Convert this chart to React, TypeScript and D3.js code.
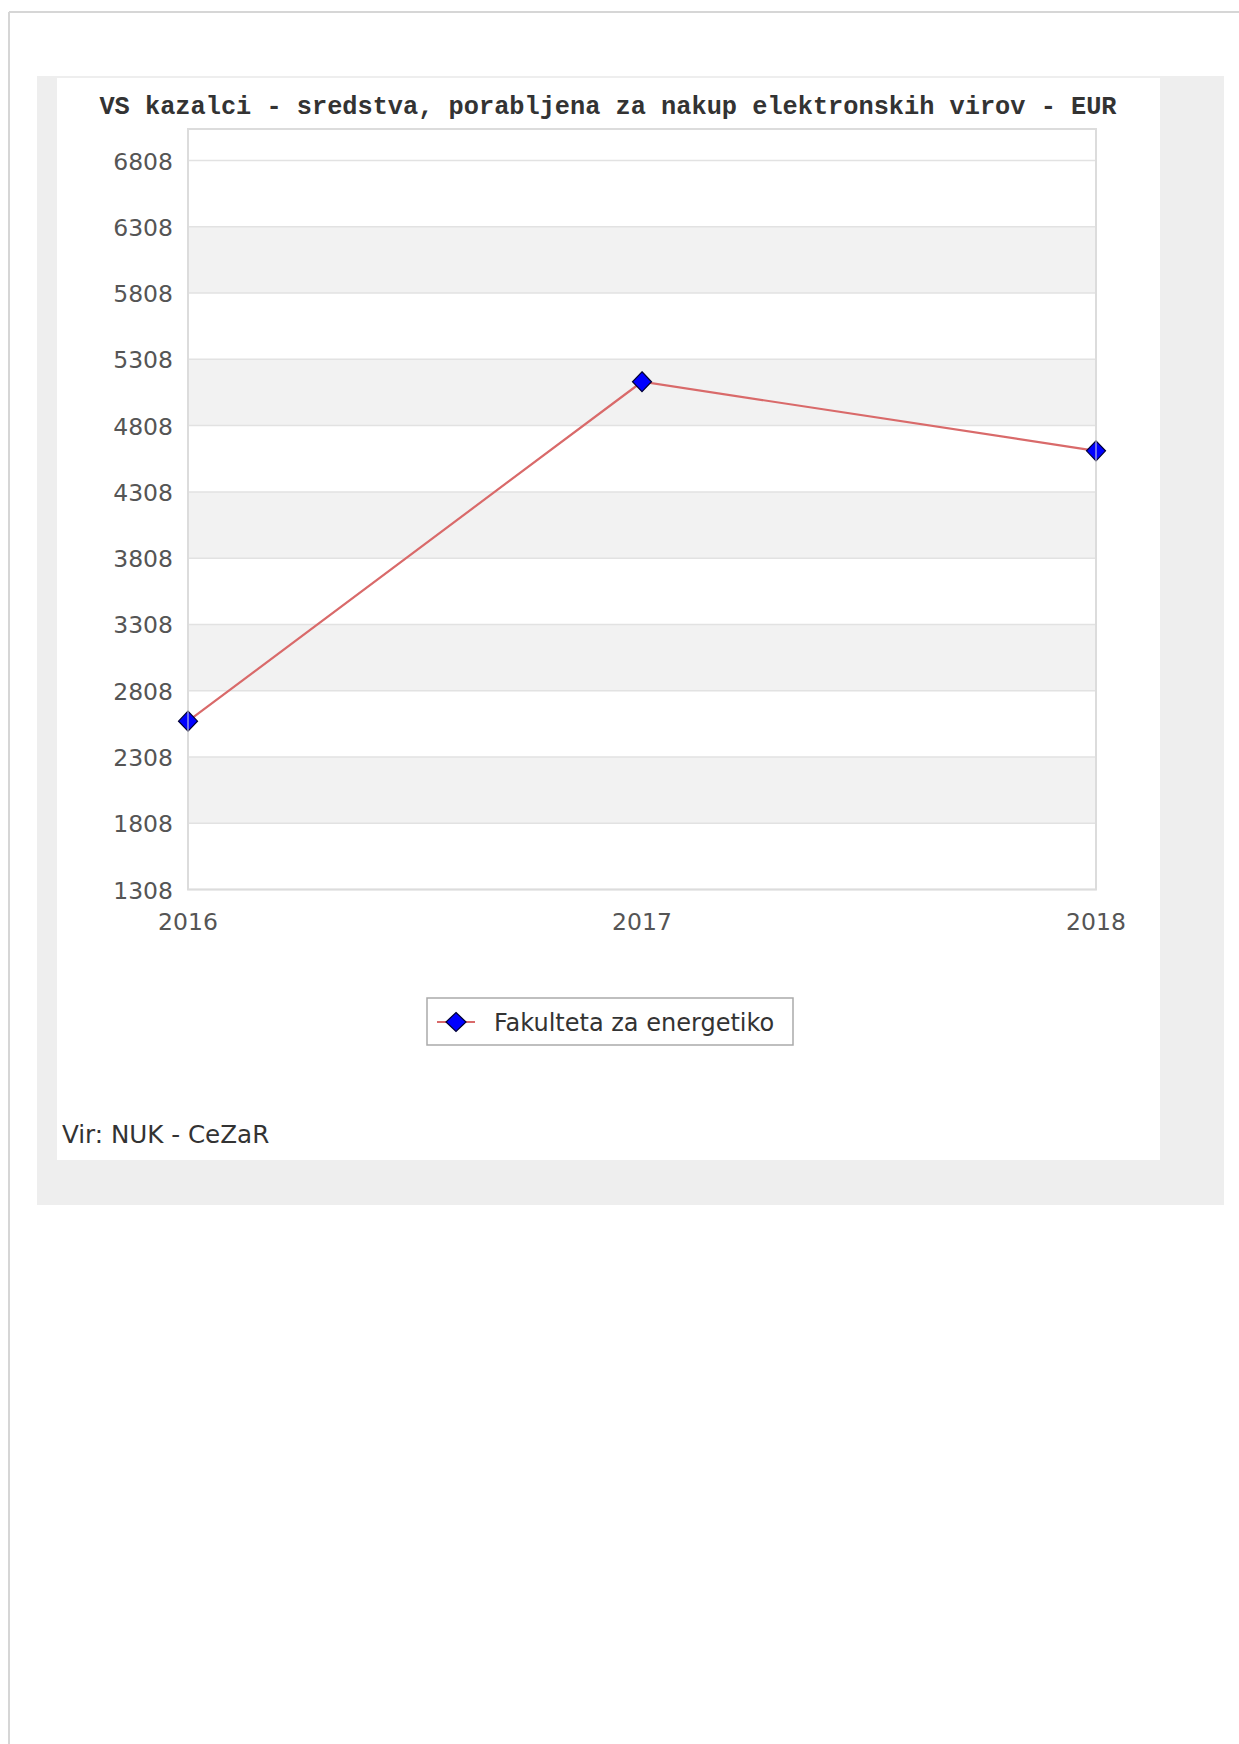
import React from "react";
import * as d3 from "d3";

const title = "VS kazalci - sredstva, porabljena za nakup elektronskih virov - EUR";
const years = ["2016", "2017", "2018"];
const values = [2578, 5139, 4618];
const seriesName = "Fakulteta za energetiko";
const yTicks = [1308, 1808, 2308, 2808, 3308, 3808, 4308, 4808, 5308, 5808, 6308, 6808];
const yMax = 7046;
const sourceText = "Vir: NUK - CeZaR";

const W = 1239;
const H = 1744;
const plot = { left: 188, right: 1096, top: 129, bottom: 889.5 };

function diamond(cx: number, cy: number, w: number, h: number) {
  return `M${cx},${cy - h / 2}L${cx + w / 2},${cy}L${cx},${cy + h / 2}L${cx - w / 2},${cy}Z`;
}

export default function App() {
  const x = d3.scalePoint<string>().domain(years).range([plot.left, plot.right]).padding(0);
  const y = d3.scaleLinear().domain([yTicks[0], yMax]).range([plot.bottom, plot.top]);
  const line = d3
    .line<number>()
    .x((_, i) => x(years[i]) as number)
    .y((d) => y(d));

  const bands = yTicks.slice(0, -1).map((t, i) => ({ lo: t, hi: yTicks[i + 1], shaded: i % 2 === 1 }));

  const sans = "'DejaVu Sans', sans-serif";

  return (
    <svg
      width={W}
      height={H}
      style={{ position: "absolute", left: 0, top: 0, background: "#fff" }}
    >
      {/* outer page border */}
      <line x1={9} y1={12} x2={W} y2={12} stroke="#d6d6d6" strokeWidth={2} />
      <line x1={9} y1={12} x2={9} y2={H} stroke="#d6d6d6" strokeWidth={2} />

      {/* panels */}
      <rect x={37} y={76} width={1187} height={1129} fill="#eeeeee" />
      <rect x={57} y={78} width={1103} height={1082} fill="#ffffff" />

      {/* title */}
      <text
        x={608}
        y={114}
        textAnchor="middle"
        fontFamily="'Liberation Mono', monospace"
        fontWeight="bold"
        fontSize={25.3}
        fill="#333"
      >
        {title}
      </text>

      {/* plot background + bands */}
      <rect x={plot.left} y={plot.top} width={plot.right - plot.left} height={plot.bottom - plot.top} fill="#fff" />
      {bands
        .filter((b) => b.shaded)
        .map((b) => (
          <rect
            key={b.lo}
            x={plot.left}
            y={y(b.hi)}
            width={plot.right - plot.left}
            height={y(b.lo) - y(b.hi)}
            fill="#f2f2f2"
          />
        ))}
      {yTicks.map((t) => (
        <line key={t} x1={plot.left} x2={plot.right} y1={y(t)} y2={y(t)} stroke="#e2e2e2" strokeWidth={1.5} />
      ))}
      <rect
        x={plot.left}
        y={plot.top}
        width={plot.right - plot.left}
        height={plot.bottom - plot.top}
        fill="none"
        stroke="#dcdcdc"
        strokeWidth={2}
      />

      {/* y tick labels */}
      {yTicks.map((t) => (
        <text
          key={t}
          x={173}
          y={y(t) + 1}
          textAnchor="end"
          dominantBaseline="central"
          fontFamily={sans}
          fontSize={23.5}
          fill="#555"
        >
          {t}
        </text>
      ))}

      {/* x tick labels */}
      {years.map((yr) => (
        <text
          key={yr}
          x={x(yr) as number}
          y={922}
          textAnchor="middle"
          dominantBaseline="central"
          fontFamily={sans}
          fontSize={23.5}
          fill="#555"
        >
          {yr}
        </text>
      ))}

      {/* series line */}
      <path d={line(values) || ""} fill="none" stroke="#d96a6a" strokeWidth={2.2} />
      {values.map((v, i) => (
        <path
          key={i}
          d={diamond(x(years[i]) as number, y(v), 19, 20)}
          fill="#0000ff"
          stroke="#000033"
          strokeWidth={1.2}
        />
      ))}
      {/* plot border showing through markers at the edges */}
      <line x1={plot.left} x2={plot.left} y1={plot.top} y2={plot.bottom} stroke="rgba(220,220,220,0.5)" strokeWidth={2} />
      <line x1={plot.right} x2={plot.right} y1={plot.top} y2={plot.bottom} stroke="rgba(220,220,220,0.5)" strokeWidth={2} />

      {/* legend */}
      <rect x={427} y={998} width={366} height={47} fill="#fff" stroke="#aaa" strokeWidth={1.5} />
      <line x1={437} x2={475} y1={1022} y2={1022} stroke="#d96a6a" strokeWidth={2.2} />
      <path d={diamond(456, 1022, 20, 19)} fill="#0000ff" stroke="#000033" strokeWidth={1.2} />
      <text x={494} y={1023} dominantBaseline="central" fontFamily={sans} fontSize={24} fill="#333">
        {seriesName}
      </text>

      {/* source */}
      <text x={62} y={1134} dominantBaseline="central" fontFamily={sans} fontSize={24.6} fill="#333">
        {sourceText}
      </text>
    </svg>
  );
}
